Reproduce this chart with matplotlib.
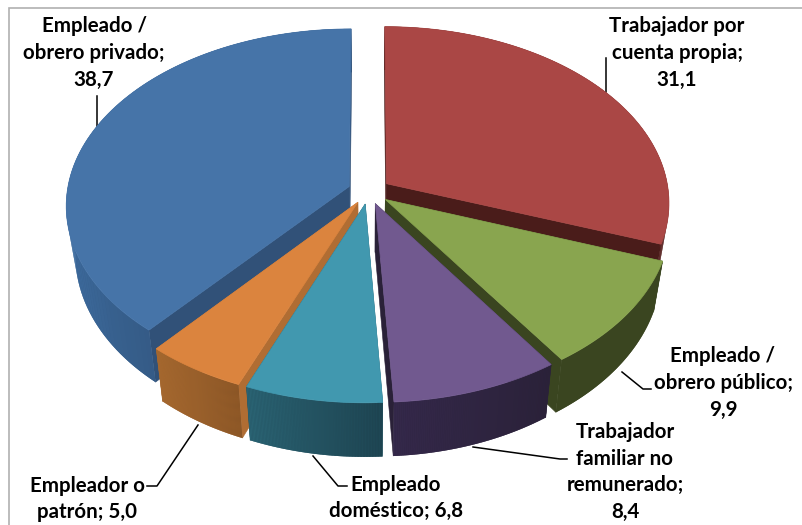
"""
Exploded 3D pie: distribution by employment category
"""

import numpy as np
import matplotlib
matplotlib.use('Agg')
import matplotlib.pyplot as plt
from matplotlib.collections import PolyCollection
from matplotlib.colors import to_rgb
from matplotlib.patches import Polygon, Rectangle

plt.rcParams['font.family'] = ['Lato', 'DejaVu Sans']

# Clockwise from 12 o'clock
label_texts = ['Trabajador por\ncuenta propia;\n31,1', 'Empleado /\nobrero público;\n9,9',
               'Trabajador\nfamiliar no\nremunerado;\n8,4', 'Empleado\ndoméstico; 6,8',
               'Empleador o\npatrón; 5,0', 'Empleado /\nobrero privado;\n38,7']
values = [31.1, 9.9, 8.4, 6.8, 5.0, 38.7]

top_colors = ['#AA4745', '#89A54F', '#71598F', '#4198AF', '#DB843E', '#4674A8']
rim_left = ['#5a2523', '#3A4520', '#34284A', '#2A6373', '#A86A30', '#3F6FA3']
rim_right = ['#5a2523', '#3A4520', '#2A2138', '#1D4350', '#8B5626', '#2F5077']
cut_colors = ['#4A1C1A', '#3A4520', '#2A2138', '#245562', '#B06D33', '#315178']

# drawing order, back to front
draw_order = [5, 0, 1, 4, 3, 2]

# text centres, same order as the labels
label_pos = [(677, 53), (723, 383), (625, 472), (396, 498), (87, 499), (94, 53)]
# leader lines in pixels
leaders = [
    [(606, 58), (606, 92)],
    [(622, 372), (643, 389), (651, 389)],
    [(473, 447), (560, 459), (567, 459)],
    [(313, 456), (338, 486), (347, 486)],
    [(198, 425), (157, 486), (147, 486)],
    [(97, 96), (97, 129)],
]

CX, CY = 369, 191
RX, TILT, PERSP = 282, 175, 0.105
DEPTH = 48
EXPLODE = 0.075
TAPER = 0.03  # walls lean inward going down
SKEW = 0.042  # the 3D view pulls the right front of the rim forward


def project(theta, r=1.0, z=0.0, ox=0.0, oy=0.0):
    """Ground point (angle clockwise from top, radius) to pixel coordinates"""
    theta = theta - SKEW * np.maximum(0, np.sin(np.minimum(theta, 3.77) / 1.2))
    x = r * np.sin(theta) + ox
    y = r * np.cos(theta) + oy
    p = 1 / (1 + y * PERSP)
    return CX + RX * x * p * (1 - TAPER * z), CY - TILT * y * p + z * DEPTH * p


def draw_slice(ax, i, start, end):
    mid = (start + end) / 2
    ox, oy = EXPLODE * np.sin(mid), EXPLODE * np.cos(mid)
    thetas = np.linspace(start, end, 90)
    tx, ty = project(thetas, 1, 0, ox, oy)
    bx, by = project(thetas, 1, 1, ox, oy)
    ax0, ay0 = project(0, 0, 0, ox, oy)
    ax1, ay1 = project(0, 0, 1, ox, oy)

    # cut faces
    for k in (0, -1):
        ax.add_patch(Polygon([(ax0, ay0), (tx[k], ty[k]), (bx[k], by[k]), (ax1, ay1)],
                             closed=True, fc=cut_colors[i], ec=cut_colors[i], lw=0.4, zorder=3))

    # outer wall: solid base first so no seams show, then shaded left to right
    c0, c1 = np.array(to_rgb(rim_left[i])), np.array(to_rgb(rim_right[i]))
    base = list(zip(tx, ty)) + list(zip(bx[::-1], by[::-1]))
    ax.add_patch(Polygon(base, closed=True, fc=(c0 + c1) / 2, ec='none', zorder=3))
    order = np.argsort(tx)
    rank = np.empty_like(order)
    rank[order] = np.arange(len(order))
    polys, cols = [], []
    for k in range(len(thetas) - 1):
        polys.append([(tx[k], ty[k]), (tx[k + 1], ty[k + 1]),
                      (bx[k + 1], by[k + 1]), (bx[k], by[k])])
        cols.append(c0 + (c1 - c0) * rank[k] / (len(thetas) - 1))
    ax.add_collection(PolyCollection(polys, facecolors=cols, edgecolors='none', zorder=3))

    # top face
    pts = [(ax0, ay0)] + list(zip(tx, ty))
    ax.add_patch(Polygon(pts, closed=True, fc=top_colors[i], ec=top_colors[i], lw=0.5, zorder=3))


def main():
    fig = plt.figure(figsize=(8.02, 5.25), dpi=100)
    ax = fig.add_axes([0, 0, 1, 1])
    ax.set_xlim(0, 802)
    ax.set_ylim(525, 0)
    ax.axis('off')

    # chart frame, only its top and left edges are inside the picture
    ax.add_patch(Rectangle((9, 8), 830, 560, fc='white', ec='#B0B0B0', lw=1.2, zorder=1))

    # leaders go under the slices
    for line in leaders:
        xs, ys = zip(*line)
        ax.plot(xs, ys, color='black', lw=1.1, zorder=2)

    edges = np.cumsum([0] + values) / sum(values) * 2 * np.pi
    for i in draw_order:
        draw_slice(ax, i, edges[i], edges[i + 1])

    for txt, (x, y) in zip(label_texts, label_pos):
        ax.text(x, y, txt, ha='center', va='center', fontsize=14.8,
                fontweight='bold', color='black', linespacing=1.42, zorder=5)

    fig.savefig('out.png', dpi=100)


if __name__ == "__main__":
    main()
